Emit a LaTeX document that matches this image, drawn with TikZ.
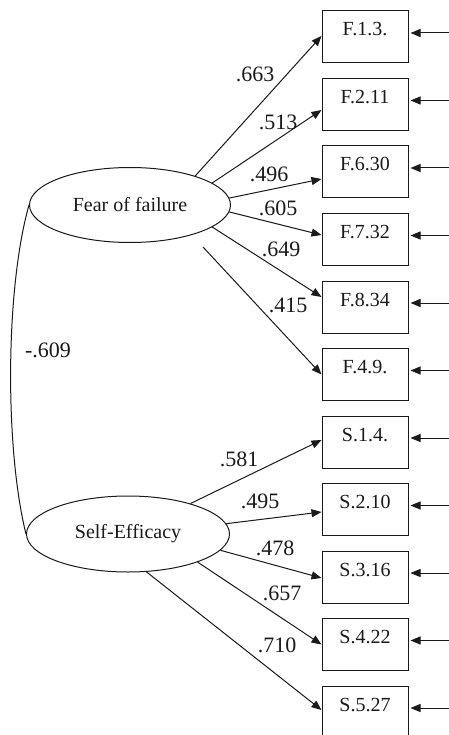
\documentclass[tikz,border=0pt]{standalone}
\usepackage{fontspec}
\setmainfont{Liberation Serif}
\usetikzlibrary{arrows.meta,positioning,shapes.geometric}
\definecolor{semInk}{HTML}{1A1A1A}
\tikzset{
  every picture/.style={font=\fontsize{20}{22}\selectfont, text=semInk},
  sem box/.style={draw=semInk, line width=1pt, minimum width=86pt,
    inner ysep=0pt, text height=25pt, text depth=27pt},
  sem latent/.style={ellipse, draw=semInk, line width=1pt, inner sep=0pt},
  sem arrow/.style={-{Triangle[length=10pt,width=8pt]},
    draw=semInk, line width=1pt},
  sem err/.style={-{Triangle[length=10pt,width=8pt]},
    draw=semInk, line width=1pt},
  sem corr/.style={draw=semInk, line width=1pt},
  sem value/.style={inner sep=0pt, font=\fontsize{22}{24}\selectfont}
}
\begin{document}
\begin{tikzpicture}[x=1pt,y=-1pt]
  \fill[white] (0,0) rectangle (448,735);
  \useasboundingbox (0,0) rectangle (448,735);
  % latent factors
  \node[sem latent,minimum width=201pt,minimum height=75pt] (fear) at (130,205) {Fear of failure};
  \node[sem latent,minimum width=203pt,minimum height=76pt] (selfeff) at (128,534) {Self-Efficacy};
  % observed items
  \node[sem box] (f13) at (365,37) {F.1.3.};
  \node[sem box] (f211) at (365,104.5) {F.2.11};
  \node[sem box] (f630) at (365,172) {F.6.30};
  \node[sem box] (f732) at (365,239.5) {F.7.32};
  \node[sem box] (f834) at (365,307) {F.8.34};
  \node[sem box] (f49) at (365,374.5) {F.4.9.};
  \node[sem box] (s14) at (365,442) {S.1.4.};
  \node[sem box] (s210) at (365,509.5) {S.2.10};
  \node[sem box] (s316) at (365,577) {S.3.16};
  \node[sem box] (s422) at (365,644.5) {S.4.22};
  \node[sem box] (s527) at (365,712) {S.5.27};
  % loadings
  \coordinate (fearlow) at (203,247);
  \draw[sem arrow] (fear.24.7) -- ([yshift=1pt]f13.west);
  \draw[sem arrow] (fear.15.5) -- ([yshift=-5.5pt]f211.west);
  \draw[sem arrow] (fear.4.6) -- ([yshift=-7pt]f630.west);
  \draw[sem arrow] (fear.-4.6) -- ([yshift=4.5pt]f732.west);
  \draw[sem arrow] (fear.-15.4) -- ([yshift=10pt]f834.west);
  \draw[sem arrow] (fearlow) -- (f49.west);
  \draw[sem arrow] (selfeff.26.2) -- ([yshift=2pt]s14.west);
  \draw[sem arrow] (selfeff.6.7) -- ([yshift=-2.5pt]s210.west);
  \draw[sem arrow] (selfeff.-10.2) -- ([yshift=-1pt]s316.west);
  \draw[sem arrow] (selfeff.-22) -- (s422.west);
  \draw[sem arrow] (selfeff.-64) -- ([yshift=2pt]s527.west);
  % error terms
  \draw[sem err] ([xshift=40pt,yshift=4pt]f13.east) -- ([xshift=2pt,yshift=4pt]f13.east);
  \draw[sem err] ([xshift=40pt,yshift=4pt]f211.east) -- ([xshift=2pt,yshift=4pt]f211.east);
  \draw[sem err] ([xshift=40pt,yshift=4pt]f630.east) -- ([xshift=2pt,yshift=4pt]f630.east);
  \draw[sem err] ([xshift=40pt,yshift=4pt]f732.east) -- ([xshift=2pt,yshift=4pt]f732.east);
  \draw[sem err] ([xshift=40pt,yshift=4pt]f834.east) -- ([xshift=2pt,yshift=4pt]f834.east);
  \draw[sem err] ([xshift=40pt,yshift=4pt]f49.east) -- ([xshift=2pt,yshift=4pt]f49.east);
  \draw[sem err] ([xshift=40pt,yshift=4pt]s14.east) -- ([xshift=2pt,yshift=4pt]s14.east);
  \draw[sem err] ([xshift=40pt,yshift=4pt]s210.east) -- ([xshift=2pt,yshift=4pt]s210.east);
  \draw[sem err] ([xshift=40pt,yshift=4pt]s316.east) -- ([xshift=2pt,yshift=4pt]s316.east);
  \draw[sem err] ([xshift=40pt,yshift=4pt]s422.east) -- ([xshift=2pt,yshift=4pt]s422.east);
  \draw[sem err] ([xshift=40pt,yshift=4pt]s527.east) -- ([xshift=2pt,yshift=4pt]s527.east);
  % correlation
  \draw[sem corr] (fear.west) .. controls (5,290) and (5,450) .. (selfeff.west);
  % values
  \node[sem value] (v663) at (255,74) {.663};
  \node[sem value] (v513) at (278,122) {.513};
  \node[sem value] (v496) at (269,174) {.496};
  \node[sem value] (v605) at (278,208) {.605};
  \node[sem value] (v649) at (281,249) {.649};
  \node[sem value] (v415) at (288,305) {.415};
  \node[sem value] (v609) at (48,350) {-.609};
  \node[sem value] (v581) at (239,459) {.581};
  \node[sem value] (v495) at (260,501) {.495};
  \node[sem value] (v478) at (275,548) {.478};
  \node[sem value] (v657) at (282,593) {.657};
  \node[sem value] (v710) at (277,645) {.710};
\end{tikzpicture}
\end{document}
